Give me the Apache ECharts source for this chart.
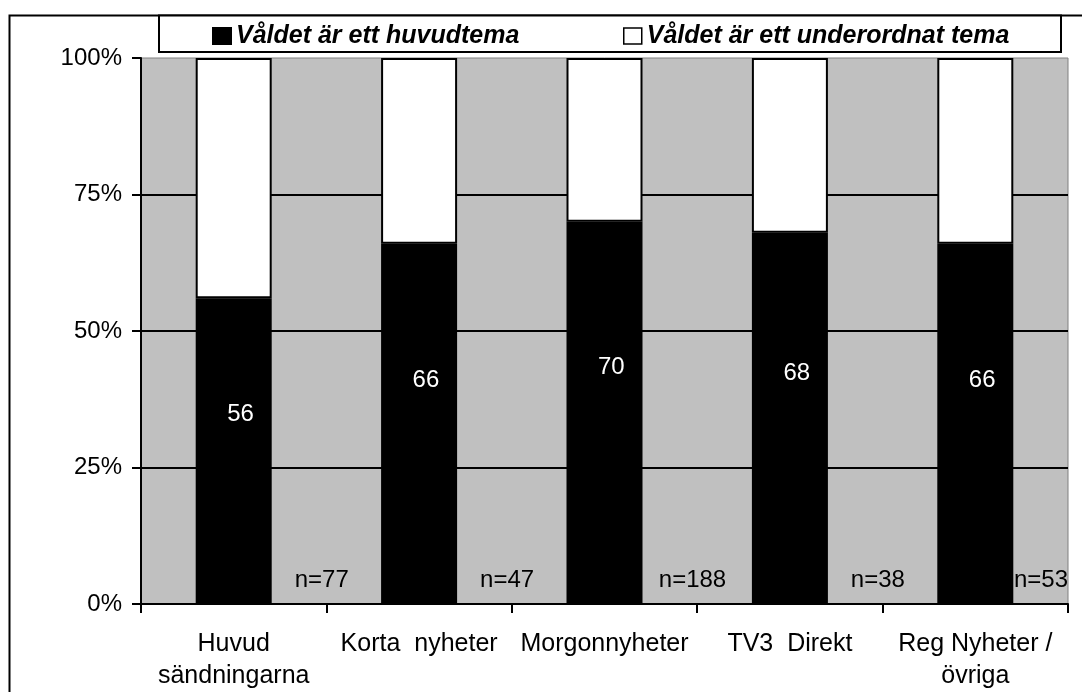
<!DOCTYPE html>
<html>
<head>
<meta charset="utf-8">
<title>Våldet som tema</title>
<script src="https://cdn.jsdelivr.net/npm/echarts@6/dist/echarts.min.js"></script>
<style>
  html, body { margin: 0; padding: 0; background: #fff; }
  #chart { width: 1082px; height: 692px; }
</style>
</head>
<body>
<div id="chart"></div>
<script>
var categories = ['Huvud\nsändningarna', 'Korta  nyheter', 'Morgonnyheter', 'TV3  Direkt', 'Reg Nyheter /\növriga'];
var huvudtema = [56, 66, 70, 68, 66];
var underordnat = [44, 34, 30, 32, 34];
var nCounts = [77, 47, 188, 38, 53];
var yTicks = [0, 25, 50, 75, 100];

var seriesNames = ['Våldet är ett huvudtema', 'Våldet är ett underordnat tema'];
var font = 'Liberation Sans';

var dom = document.getElementById('chart');
var myChart = echarts.init(dom, null, { renderer: 'canvas' });

var gridRight = 14;
var legendText = { fontFamily: font, fontSize: 25, fontWeight: 'bold', fontStyle: 'italic', color: '#000', lineHeight: 26 };

var option = {
  backgroundColor: '#fff',
  animation: false,
  graphic: [
    {
      type: 'polyline',
      z: 0,
      shape: { points: [[9.5, 700], [9.5, 15.5], [1090, 15.5]] },
      style: { stroke: '#000', lineWidth: 2, fill: null }
    },
    {
      type: 'rect',
      z: 0,
      shape: { x: 159, y: 15.5, width: 902, height: 36.5 },
      style: { fill: '#fff', stroke: '#000', lineWidth: 2 }
    }
  ],
  legend: [
    {
      data: [{ name: seriesNames[0], itemStyle: { color: '#000' } }],
      left: 212, top: 23, padding: 0, z: 10,
      icon: 'rect', itemWidth: 18, itemHeight: 16, itemGap: 0,
      textStyle: legendText
    },
    {
      data: [{ name: seriesNames[1], itemStyle: { color: '#fff', borderColor: '#000', borderWidth: 1.5 } }],
      left: 623, top: 23, padding: 0, z: 10,
      icon: 'rect', itemWidth: 18, itemHeight: 16, itemGap: 0,
      textStyle: legendText
    }
  ],
  grid: {
    left: 141, right: gridRight, top: 58, bottom: 86,
    show: true, backgroundColor: '#c0c0c0', borderColor: '#808080', borderWidth: 1
  },
  xAxis: {
    type: 'category',
    data: categories,
    axisLine: { lineStyle: { color: '#000', width: 2 } },
    axisTick: { show: true, length: 9, lineStyle: { color: '#000', width: 2 } },
    axisLabel: { fontFamily: font, fontSize: 25, color: '#000', margin: 24, lineHeight: 32, interval: 0 }
  },
  yAxis: {
    type: 'value',
    min: yTicks[0],
    max: yTicks[yTicks.length - 1],
    interval: yTicks[1] - yTicks[0],
    axisLine: { show: true, lineStyle: { color: '#000', width: 2 } },
    axisTick: { show: true, length: 9, lineStyle: { color: '#000', width: 2 } },
    axisLabel: { fontFamily: font, fontSize: 24, color: '#000', margin: 19, formatter: '{value}%' },
    splitLine: { show: true, showMinLine: false, showMaxLine: false, lineStyle: { color: '#000', width: 2 } }
  },
  series: [
    {
      name: seriesNames[0],
      type: 'bar',
      stack: 'total',
      barWidth: 76,
      data: huvudtema,
      itemStyle: { color: '#000', borderColor: '#000', borderWidth: 2 },
      label: {
        show: true,
        position: ['59%', '38%'],
        align: 'center',
        verticalAlign: 'middle',
        color: '#fff',
        fontFamily: font,
        fontSize: 24,
        formatter: '{c}'
      }
    },
    {
      name: seriesNames[1],
      type: 'bar',
      stack: 'total',
      barWidth: 76,
      data: underordnat,
      itemStyle: { color: '#fff', borderColor: '#000', borderWidth: 2 }
    },
    {
      name: 'n',
      type: 'scatter',
      silent: true,
      z: 5,
      symbolSize: 1,
      itemStyle: { color: 'rgba(0,0,0,0)', opacity: 1 },
      data: categories.map(function (c, i) { return [i, yTicks[0]]; }),
      label: {
        show: true,
        position: 'inside',
        color: '#000',
        opacity: 1,
        textBorderWidth: 0,
        textBorderColor: 'transparent',
        fontFamily: font,
        fontSize: 24,
        formatter: function (p) { return 'n=' + nCounts[p.dataIndex]; }
      },
      // push the n= labels to the right of each bar, kept inside the plot
      labelLayout: function (p) {
        var r = p.labelRect;
        var lim = myChart.getWidth() - gridRight;
        var dx = 88;
        if (r.x + dx + r.width > lim) {
          dx = lim - (r.x + r.width);
        }
        return { dx: dx, dy: -24 };
      }
    }
  ]
};

myChart.setOption(option);
window.addEventListener('resize', myChart.resize);
</script>
</body>
</html>
